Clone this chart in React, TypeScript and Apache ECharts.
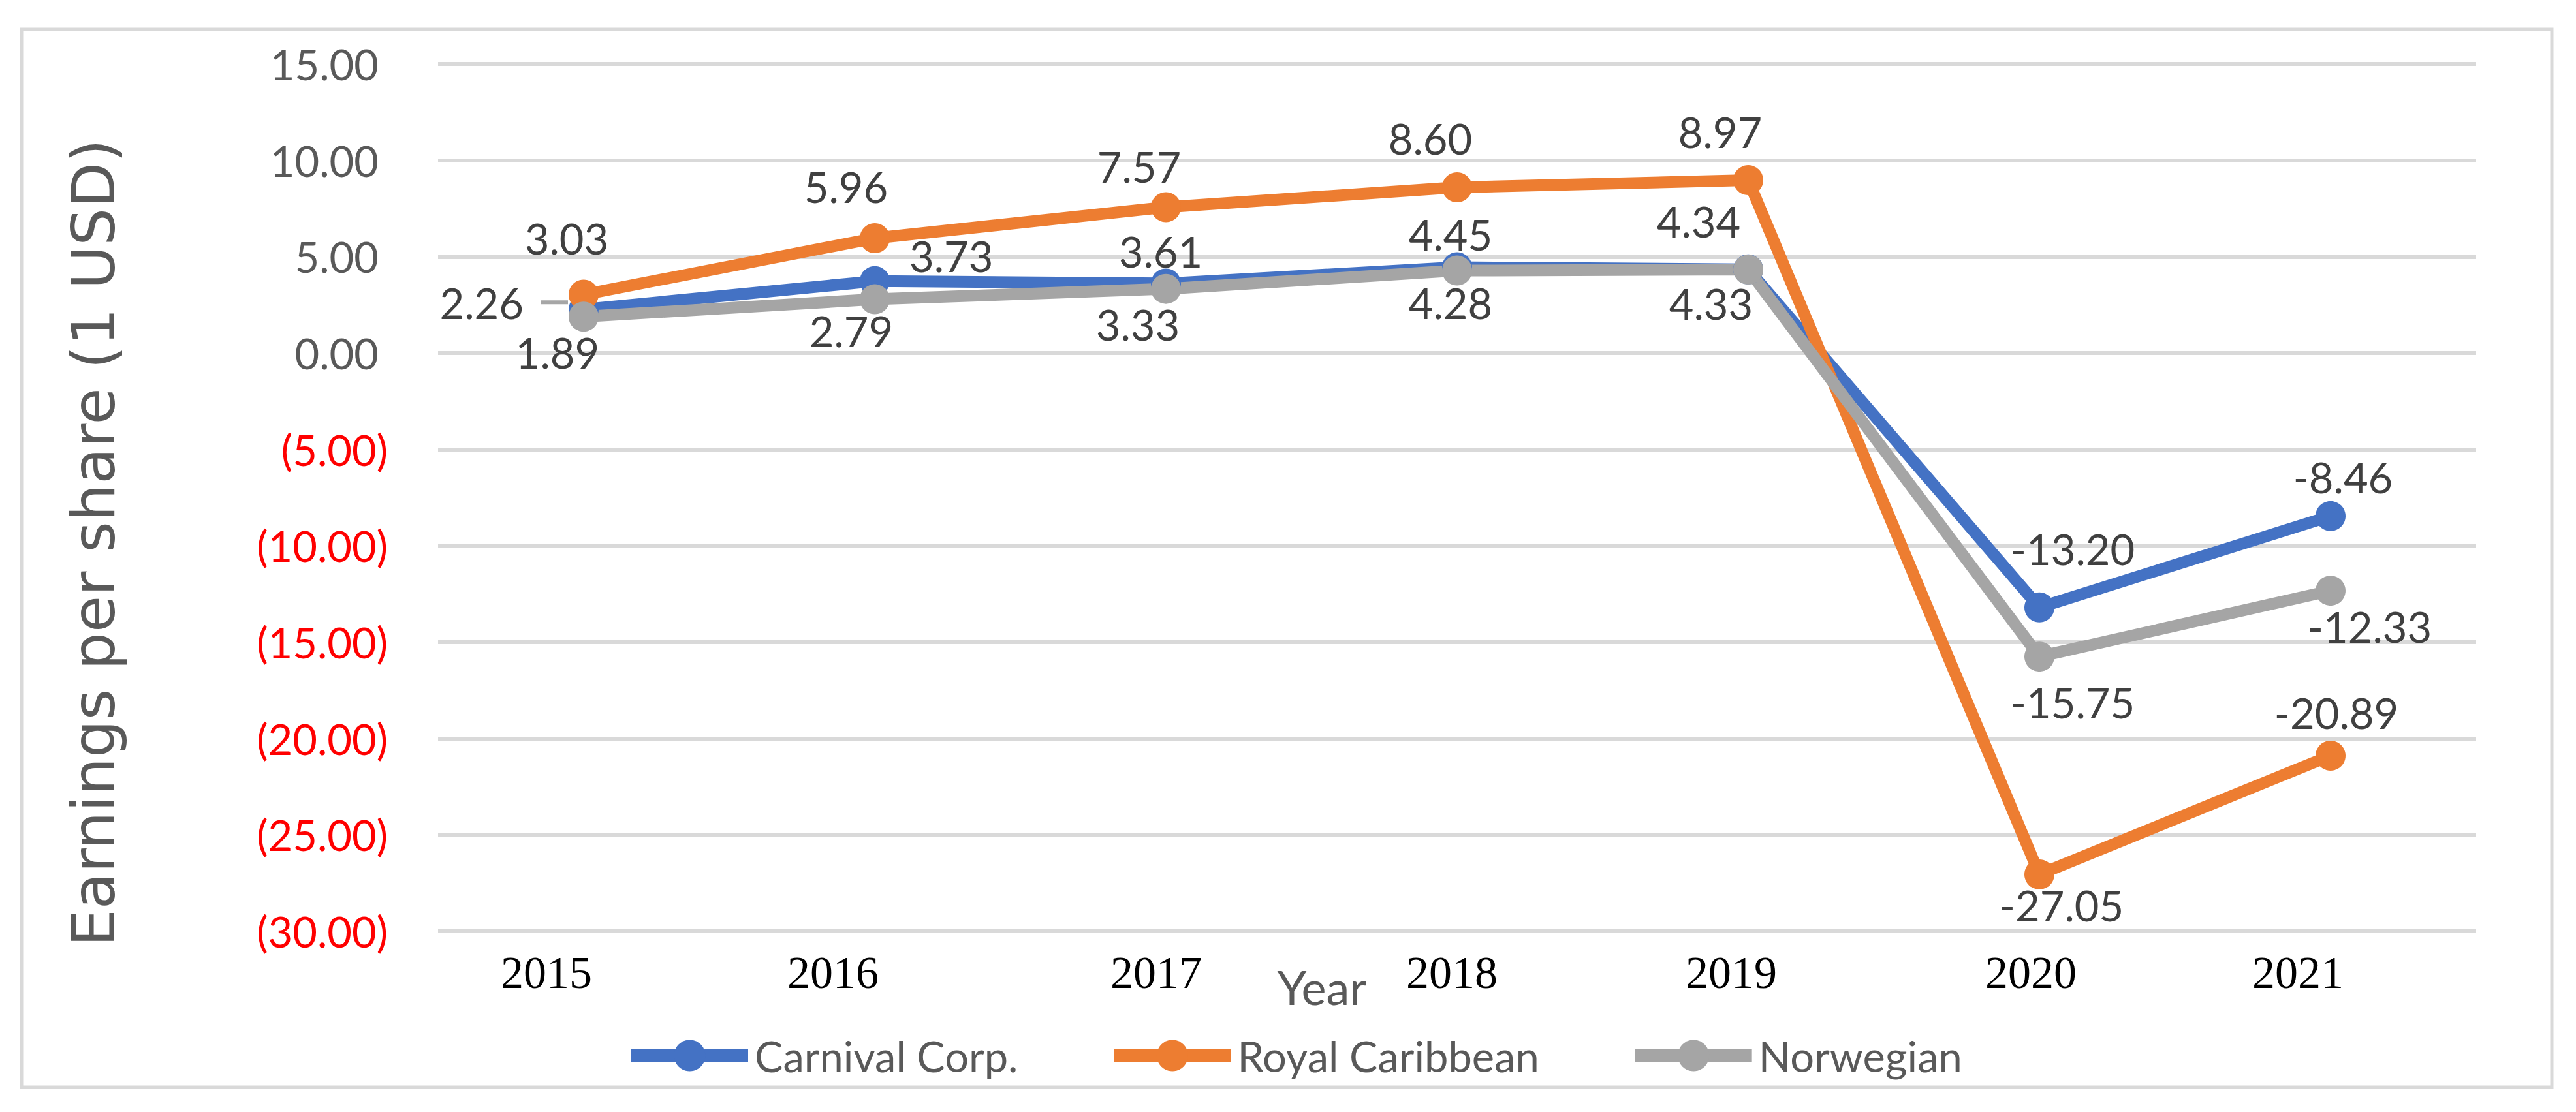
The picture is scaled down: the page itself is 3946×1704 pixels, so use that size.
import React, { useEffect, useRef } from "react";
import * as echarts from "echarts";

const years = ["2015", "2016", "2017", "2018", "2019", "2020", "2021"];
const carnival = [2.26, 3.73, 3.61, 4.45, 4.34, -13.2, -8.46];
const royal = [3.03, 5.96, 7.57, 8.6, 8.97, -27.05, -20.89];
const norwegian = [1.89, 2.79, 3.33, 4.28, 4.33, -15.75, -12.33];
const seriesNames = ["Carnival Corp.", "Royal Caribbean", "Norwegian"];
const yMin = -30;
const yMax = 15;
const yStep = 5;

// label placement (style only)
const carnivalLabelPos = ["left", "right", "top", "top", "top", "top", "top"];
const carnivalLabelOffset = [[-69, -10], [30, -39], [-8, 6], [-10, 5], [-76, -18], [51, -34], [19, -4]];
const royalLabelPos = ["top", "top", "top", "top", "top", "bottom", "top"];
const royalLabelOffset = [[-26, -31], [-44, -23], [-41, -7], [-41, -20], [-43, -19], [34, -8], [9, -10]];
const norLabelPos = ["bottom", "bottom", "bottom", "bottom", "bottom", "bottom", "bottom"];
const norLabelOffset = [[-40, -1], [-36, -7], [-43, -1], [-10, -6], [-57, -4], [51, 14], [60, -1]];
const xLabelShift = [-57, -64, -15, -8, -26, -13, -50];

const W = 3946;
const H = 1704;
const FONT = "Lato";

function buildData(values: number[], pos: string[], off: number[][]) {
  return values.map((v, i) => ({
    value: v,
    label: { position: pos[i], offset: off[i] },
  }));
}

export default function App() {
  const ref = useRef<HTMLDivElement>(null);
  useEffect(() => {
    document.body.style.margin = "0";
    if (!ref.current) return;
    const chart = echarts.init(ref.current, null, { renderer: "svg", width: W, height: H });
    const labelBase = {
      show: true,
      distance: 0,
      fontFamily: FONT,
      fontSize: 65,
      color: "#404040",
      formatter: (p: any) => Number(p.value).toFixed(2),
    };
    const mk = (name: string, color: string, data: any[]) => ({
      name,
      type: "line",
      data,
      symbol: "circle",
      symbolSize: 46,
      lineStyle: { color, width: 18 },
      itemStyle: { color },
      label: labelBase,
      emphasis: { disabled: true },
    });
    const xRich: any = {};
    xLabelShift.forEach((s, i) => {
      xRich["s" + i] = {
        fontFamily: "Liberation Serif",
        fontSize: 70,
        color: "#000000",
        padding: [0, Math.max(0, -2 * s), 0, Math.max(0, 2 * s)],
      };
    });
    chart.setOption({
      animation: false,
      backgroundColor: "#ffffff",
      grid: { left: 671, right: W - 3793, top: 98, bottom: H - 1427, containLabel: false },
      xAxis: {
        type: "category",
        data: years,
        boundaryGap: true,
        axisLine: { show: false },
        axisTick: { show: false },
        axisLabel: {
          margin: 28,
          formatter: (v: string, i: number) => "{s" + i + "|" + v + "}",
          rich: xRich,
        },
      },
      yAxis: {
        type: "value",
        min: yMin,
        max: yMax,
        interval: yStep,
        axisLine: { show: false },
        axisTick: { show: false },
        splitLine: { lineStyle: { color: "#d9d9d9", width: 6 } },
        axisLabel: {
          margin: 77,
          formatter: (v: number) =>
            v < 0 ? "{neg|(" + Math.abs(v).toFixed(2) + ")}" : "{pos|" + v.toFixed(2) + "}",
          rich: {
            neg: { fontFamily: FONT, fontSize: 65, color: "#ff0000" },
            pos: { fontFamily: FONT, fontSize: 65, color: "#595959", padding: [0, 14, 0, 0] },
          },
        },
      },
      legend: {
        data: seriesNames,
        left: 952,
        top: 1580,
        itemWidth: 179,
        itemHeight: 60,
        itemGap: 137,
        lineStyle: { width: 20 },
        textStyle: { fontFamily: FONT, fontSize: 65, color: "#595959", padding: [0, 0, 0, 5] },
      },
      graphic: [
        {
          type: "rect",
          shape: { x: 33, y: 45, width: 3876, height: 1621 },
          style: { fill: "none", stroke: "#d9d9d9", lineWidth: 5 },
          silent: true,
        },
        {
          type: "text",
          x: 143,
          y: 832,
          rotation: Math.PI / 2,
          style: {
            text: "Earnings per share (1 USD)",
            fontFamily: "DejaVu Sans",
            fontSize: 91,
            fill: "#595959",
            align: "center",
            verticalAlign: "middle",
          },
          silent: true,
        },
        {
          type: "text",
          x: 2025,
          y: 1512,
          style: {
            text: "Year",
            fontFamily: FONT,
            fontSize: 72,
            fill: "#595959",
            align: "center",
            verticalAlign: "middle",
          },
          silent: true,
        },
      ],
      series: [
        mk(seriesNames[0], "#4472c4", buildData(carnival, carnivalLabelPos, carnivalLabelOffset)),
        mk(seriesNames[1], "#ed7d31", buildData(royal, royalLabelPos, royalLabelOffset)),
        mk(seriesNames[2], "#a5a5a5", buildData(norwegian, norLabelPos, norLabelOffset)),
      ],
    });
    // leader line from the "2.26" label towards its point, placed via the chart's own scales
    const p = chart.convertToPixel({ seriesIndex: 0 }, [0, carnival[0]]) as number[];
    if (p && isFinite(p[0])) {
      chart.setOption({
        graphic: [
          {
            type: "line",
            id: "leader",
            shape: { x1: p[0] - 65, y1: p[1] - 11, x2: p[0] - 24, y2: p[1] - 11 },
            style: { stroke: "#a6a6a6", lineWidth: 6 },
            z: 1,
            silent: true,
          },
        ],
      });
    }
    return () => chart.dispose();
  }, []);
  return <div ref={ref} style={{ width: W, height: H, position: "absolute", left: 0, top: 0 }} />;
}
